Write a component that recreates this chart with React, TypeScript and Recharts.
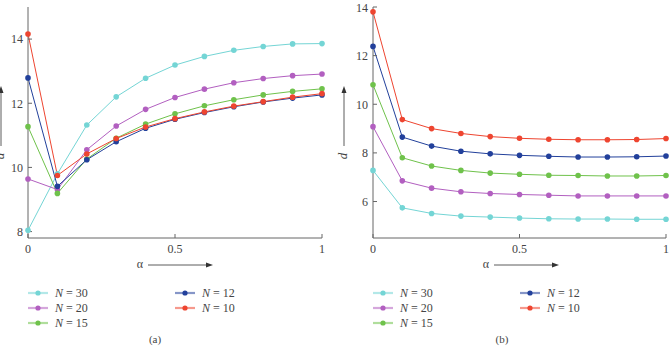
import React from "react";
import { LineChart, Line, XAxis, YAxis } from "recharts";

const alpha = [0, 0.1, 0.2, 0.3, 0.4, 0.5, 0.6, 0.7, 0.8, 0.9, 1.0];
const seriesNames = ["N = 30", "N = 20", "N = 15", "N = 12", "N = 10"];
const seriesKeys = ["n30", "n20", "n15", "n12", "n10"];
const seriesColors = ["#74d5d5", "#b25fc0", "#6fc24b", "#22409b", "#ee4530"];

// panel (a)
const a30 = [8.04, 9.8, 11.32, 12.2, 12.78, 13.19, 13.46, 13.65, 13.77, 13.85, 13.86];
const a20 = [9.64, 9.31, 10.55, 11.29, 11.81, 12.18, 12.44, 12.64, 12.77, 12.86, 12.91];
const a15 = [11.27, 9.19, 10.26, 10.91, 11.35, 11.67, 11.92, 12.11, 12.26, 12.37, 12.45];
const a12 = [12.79, 9.41, 10.24, 10.8, 11.22, 11.5, 11.71, 11.89, 12.04, 12.16, 12.26];
const a10 = [14.16, 9.75, 10.42, 10.9, 11.26, 11.52, 11.73, 11.91, 12.05, 12.19, 12.3];

// panel (b)
const b30 = [7.28, 5.74, 5.51, 5.4, 5.36, 5.32, 5.29, 5.28, 5.28, 5.27, 5.27];
const b20 = [9.08, 6.85, 6.55, 6.4, 6.33, 6.29, 6.26, 6.23, 6.23, 6.23, 6.23];
const b15 = [10.8, 7.8, 7.46, 7.28, 7.17, 7.12, 7.08, 7.07, 7.05, 7.05, 7.07];
const b12 = [12.38, 8.65, 8.28, 8.07, 7.96, 7.9, 7.86, 7.83, 7.83, 7.84, 7.87];
const b10 = [13.8, 9.37, 9.0, 8.8, 8.67, 8.6, 8.56, 8.54, 8.54, 8.55, 8.59];

const xTicks = [0, 0.5, 1];
const aYTicks = [8, 10, 12, 14];
const bYTicks = [6, 8, 10, 12, 14];

const buildRows = (sets: number[][]) =>
  alpha.map((a, i) => {
    const row: Record<string, number> = { alpha: a };
    seriesKeys.forEach((k, j) => (row[k] = sets[j][i]));
    return row;
  });

const dataA = buildRows([a30, a20, a15, a12, a10]);
const dataB = buildRows([b30, b20, b15, b12, b10]);

const FONT = "Liberation Serif, DejaVu Serif, serif";
const AXIS = "#666";
const TICK = { fontSize: 12, fill: "#444", style: { fontFamily: FONT } };

function Panel({
  data,
  domain,
  yTicks,
  yAxisWidth,
  rightMargin,
  tickMargin,
}: {
  data: Record<string, number>[];
  domain: [number, number];
  yTicks: number[];
  yAxisWidth: number;
  rightMargin: number;
  tickMargin: number;
}) {
  return (
    <LineChart
      width={336}
      height={260}
      data={data}
      margin={{ top: 7, right: rightMargin, bottom: 0, left: 0 }}
      style={{ fontFamily: FONT }}
    >
      <XAxis
        xAxisId="b"
        dataKey="alpha"
        type="number"
        domain={[0, 1]}
        ticks={xTicks}
        height={22}
        tickSize={-4}
        tickMargin={10}
        stroke={AXIS}
        tick={TICK}
        tickFormatter={(v: number) => String(v)}
      />
      <XAxis
        xAxisId="t"
        dataKey="alpha"
        type="number"
        orientation="top"
        domain={[0, 1]}
        ticks={xTicks}
        height={0}
        tickSize={-4}
        tick={false}
        stroke={AXIS}
      />
      <YAxis
        yAxisId="l"
        type="number"
        domain={domain}
        ticks={yTicks}
        width={yAxisWidth}
        tickSize={-4}
        tickMargin={tickMargin}
        stroke={AXIS}
        tick={TICK}
        allowDataOverflow
      />
      <YAxis
        yAxisId="r"
        type="number"
        orientation="right"
        domain={domain}
        ticks={yTicks}
        width={0}
        tickSize={-4}
        tick={false}
        stroke={AXIS}
        allowDataOverflow
      />
      {seriesKeys.map((k, i) => (
        <Line
          key={k}
          xAxisId="b"
          yAxisId="l"
          dataKey={k}
          name={seriesNames[i]}
          stroke={seriesColors[i]}
          strokeWidth={1}
          dot={{ r: 2.8, fill: seriesColors[i], stroke: seriesColors[i], strokeWidth: 0 }}
          isAnimationActive={false}
        />
      ))}
    </LineChart>
  );
}

const txtStyle = { fontFamily: FONT };

function LegendItem({ x, y, idx }: { x: number; y: number; idx: number }) {
  const c = seriesColors[idx];
  const [n, rest] = seriesNames[idx].split(" = ");
  return (
    <g>
      <line x1={x} x2={x + 20} y1={y} y2={y} stroke={c} strokeWidth={2.2} strokeOpacity={0.55} />
      <circle cx={x + 10} cy={y} r={2.6} fill={c} />
      <text x={x + 27} y={y + 4} fontSize={12} fill="#444" style={txtStyle}>
        <tspan fontStyle="italic">{n}</tspan>
        <tspan>{" = " + rest}</tspan>
      </text>
    </g>
  );
}

function Legend({ x1, x2 }: { x1: number; x2: number }) {
  const rows = [293, 308, 323];
  return (
    <g>
      <LegendItem x={x1} y={rows[0]} idx={0} />
      <LegendItem x={x1} y={rows[1]} idx={1} />
      <LegendItem x={x1} y={rows[2]} idx={2} />
      <LegendItem x={x2} y={rows[0]} idx={3} />
      <LegendItem x={x2} y={rows[1]} idx={4} />
    </g>
  );
}

function XLabel({ x }: { x: number }) {
  return (
    <g>
      <text x={x} y={268} fontSize={12} fill="#444" style={txtStyle} textAnchor="middle">
        α
      </text>
      <line x1={x + 8} x2={x + 68} y1={265} y2={265} stroke="#333" strokeWidth={0.8} />
      <polygon points={`${x + 73},265 ${x + 66},262.5 ${x + 66},267.5`} fill="#333" />
    </g>
  );
}

function YLabel({ x }: { x: number }) {
  return (
    <g>
      <line x1={x} x2={x} y1={146} y2={92} stroke="#333" strokeWidth={0.8} />
      <polygon points={`${x},86 ${x - 2.5},93 ${x + 2.5},93`} fill="#333" />
      <text
        x={x}
        y={156}
        fontSize={13}
        fill="#444"
        style={txtStyle}
        fontStyle="italic"
        textAnchor="middle"
        dominantBaseline="middle"
        transform={`rotate(-90 ${x} 156)`}
      >
        d
      </text>
    </g>
  );
}

export default function App() {
  return (
    <div
      style={{
        position: "absolute",
        left: 0,
        top: 0,
        width: 672,
        height: 347,
        background: "#fff",
        overflow: "hidden",
        fontFamily: FONT,
      }}
    >
      <div style={{ position: "absolute", left: 0, top: 0 }}>
        <Panel data={dataA} domain={[7.8, 15]} yTicks={aYTicks} yAxisWidth={28} rightMargin={14} tickMargin={9} />
      </div>
      <div style={{ position: "absolute", left: 336, top: 0 }}>
        <Panel data={dataB} domain={[4.5, 14]} yTicks={bYTicks} yAxisWidth={37} rightMargin={6} tickMargin={9} />
      </div>
      <svg
        width={672}
        height={347}
        style={{ position: "absolute", left: 0, top: 0, pointerEvents: "none" }}
      >
        <YLabel x={1} />
        <YLabel x={344} />
        <XLabel x={140} />
        <XLabel x={486} />
        <Legend x1={28} x2={175} />
        <Legend x1={373} x2={520} />
        <text x={155} y={343} fontSize={11} fill="#444" style={txtStyle} textAnchor="middle">
          (a)
        </text>
        <text x={502} y={343} fontSize={11} fill="#444" style={txtStyle} textAnchor="middle">
          (b)
        </text>
      </svg>
    </div>
  );
}
